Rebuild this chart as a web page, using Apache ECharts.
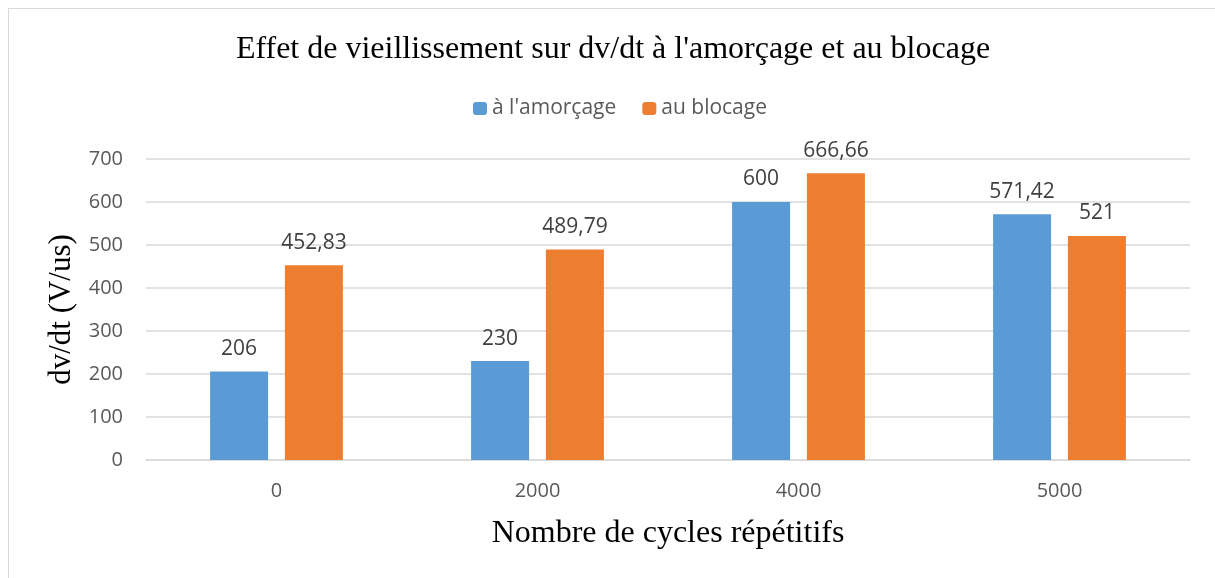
<!DOCTYPE html>
<html>
<head>
<meta charset="utf-8">
<script src="https://cdn.jsdelivr.net/npm/echarts@6/dist/echarts.min.js"></script>
<style>
  html, body { margin: 0; padding: 0; background: #fff; }
  #frame { position: absolute; left: 8px; top: 8px; width: 1220px; height: 580px; border: 1px solid #d9d9d9; box-sizing: border-box; }
  #chart { width: 1215px; height: 578px; position: absolute; left: 0; top: 0; }
</style>
</head>
<body>
<div id="frame"></div>
<div id="chart"></div>
<script>
const categories = ['0', '2000', '4000', '5000'];
const amorcage = [206, 230, 600, 571.42];
const blocage = [452.83, 489.79, 666.66, 521];
const seriesNames = ["à l'amorçage", 'au blocage'];

const fmt = v => String(v).replace('.', ',');

const chart = echarts.init(document.getElementById('chart'), null, { renderer: 'canvas' });
const labelStyle = {
  show: true, position: 'top', distance: 12,
  color: '#404040', fontSize: 21, fontFamily: 'Open Sans',
  formatter: p => fmt(p.value)
};
chart.setOption({
  animation: false,
  title: {
    text: 'Effet de vieillissement sur dv/dt à l\'amorçage et au blocage',
    left: 608, textAlign: 'center', top: 29,
    textStyle: { fontFamily: 'Liberation Serif', fontSize: 32, fontWeight: 'normal', color: '#000' }
  },
  legend: {
    top: 93, left: 468,
    itemWidth: 14, itemHeight: 13, itemGap: 26,
    textStyle: { fontFamily: 'Open Sans', fontSize: 21, color: '#595959' },
    data: seriesNames
  },
  grid: { left: 146, right: 25, top: 159, bottom: 118, containLabel: false },
  xAxis: {
    type: 'category', data: categories,
    axisLine: { lineStyle: { color: '#d9d9d9', width: 1.5 } },
    axisTick: { show: false },
    axisLabel: { color: '#595959', fontSize: 20, fontFamily: 'Open Sans', margin: 21 },
    name: 'Nombre de cycles répétitifs', nameLocation: 'middle', nameGap: 58,
    nameTextStyle: { fontFamily: 'Liberation Serif', fontSize: 32, color: '#000' }
  },
  yAxis: {
    type: 'value', min: 0, max: 700, interval: 100,
    axisLine: { show: false }, axisTick: { show: false },
    splitLine: { lineStyle: { color: '#d9d9d9', width: 1.5 } },
    axisLabel: { color: '#595959', fontSize: 20, fontFamily: 'Open Sans', margin: 23 },
    name: 'dv/dt (V/us)', nameLocation: 'middle', nameGap: 58, nameRotate: 90,
    nameTextStyle: { fontFamily: 'Liberation Serif', fontSize: 31, color: '#000' }
  },
  series: [
    { name: seriesNames[0], type: 'bar', data: amorcage, barWidth: 58, barGap: '29%',
      itemStyle: { color: '#5B9BD5' }, label: labelStyle },
    { name: seriesNames[1], type: 'bar', data: blocage, barWidth: 58,
      itemStyle: { color: '#ED7D31' }, label: labelStyle }
  ]
});
</script>
</body>
</html>
